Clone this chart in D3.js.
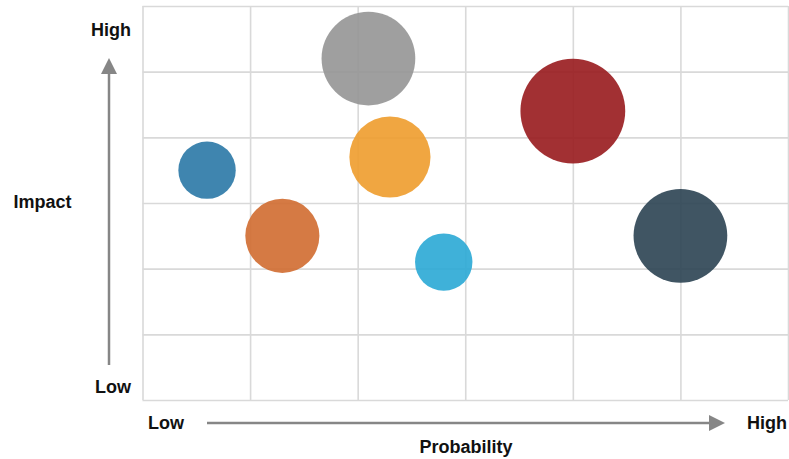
<!DOCTYPE html>
<html>
<head>
<meta charset="utf-8">
<script src="https://cdn.jsdelivr.net/npm/d3@7/dist/d3.min.js"></script>
<style>
  html, body { margin: 0; padding: 0; background: #fff; }
  svg { display: block; }
  text { font-family: "Liberation Sans", Arial, sans-serif; font-weight: bold; fill: #111; }
</style>
</head>
<body>
<svg id="chart" width="789" height="459"></svg>
<script>
// Risk bubbles: probability (x), impact (y), relative size
const risks = ["Risk A", "Risk B", "Risk C", "Risk D", "Risk E", "Risk F", "Risk G"];
const probability = [0.6, 1.3, 2.1, 2.3, 2.8, 4.0, 5.0];
const impact = [3.5, 2.5, 5.2, 3.7, 2.1, 4.4, 2.5];
const size = [3, 5, 8, 6, 3, 10, 8];
const colors = ["#2a78a6", "#d06c30", "#959595", "#ee9c2c", "#2aa9d5", "#98191d", "#2b4252"];
const gridTicks = [0, 1, 2, 3, 4, 5, 6];
const lowLabel = "Low", highLabel = "High";
const xTitle = "Probability", yTitle = "Impact";

const svg = d3.select("#chart");
const plot = { left: 142.5, right: 788, top: 6, bottom: 400 };

const x = d3.scaleLinear().domain([0, 6]).range([plot.left, plot.right]);
const y = d3.scaleLinear().domain([0, 6]).range([plot.bottom, plot.top]);
const r = d3.scaleSqrt().domain([0, 10]).range([0, 52.4]);

// Grid lines drawn with axes whose ticks span the plot
const gx = svg.append("g")
  .attr("transform", `translate(0,${plot.bottom})`)
  .call(d3.axisBottom(x).tickValues(gridTicks).tickSize(-(plot.bottom - plot.top)).tickFormat(""));
const gy = svg.append("g")
  .attr("transform", `translate(${plot.left},0)`)
  .call(d3.axisLeft(y).tickValues(gridTicks).tickSize(-(plot.right - plot.left)).tickFormat(""));
[gx, gy].forEach(g => {
  g.select(".domain").remove();
  g.selectAll(".tick line").attr("stroke", "#d9d9d9").attr("stroke-width", 1.6);
});

// Bubbles
svg.append("g").selectAll("circle")
  .data(risks.map((name, i) => ({ name, p: probability[i], im: impact[i], s: size[i], c: colors[i] })))
  .join("circle")
  .attr("cx", d => x(d.p))
  .attr("cy", d => y(d.im))
  .attr("r", d => r(d.s))
  .attr("fill", d => d.c)
  .attr("fill-opacity", 0.9);

// Arrows
const defs = svg.append("defs");
defs.append("marker")
  .attr("id", "head")
  .attr("viewBox", "0 0 16 16")
  .attr("refX", 0).attr("refY", 8)
  .attr("markerWidth", 16).attr("markerHeight", 16)
  .attr("markerUnits", "userSpaceOnUse")
  .attr("orient", "auto")
  .append("path").attr("d", "M0,0 L16,8 L0,16 Z").attr("fill", "#868686");

svg.append("line")
  .attr("x1", 109).attr("y1", 365).attr("x2", 109).attr("y2", 74)
  .attr("stroke", "#868686").attr("stroke-width", 2.5)
  .attr("marker-end", "url(#head)");
svg.append("line")
  .attr("x1", 207).attr("y1", 423).attr("x2", 709).attr("y2", 423)
  .attr("stroke", "#868686").attr("stroke-width", 2.5)
  .attr("marker-end", "url(#head)");

// Labels
const fs = "18px";
svg.append("text").attr("x", 131).attr("y", 36).attr("text-anchor", "end").style("font-size", fs).text(highLabel);
svg.append("text").attr("x", 131).attr("y", 393).attr("text-anchor", "end").style("font-size", fs).text(lowLabel);
svg.append("text").attr("x", 42.5).attr("y", 208).attr("text-anchor", "middle").style("font-size", fs).text(yTitle);
svg.append("text").attr("x", 148).attr("y", 429).attr("text-anchor", "start").style("font-size", fs).text(lowLabel);
svg.append("text").attr("x", 787).attr("y", 429).attr("text-anchor", "end").style("font-size", fs).text(highLabel);
svg.append("text").attr("x", 466).attr("y", 453).attr("text-anchor", "middle").style("font-size", fs).text(xTitle);
</script>
</body>
</html>
